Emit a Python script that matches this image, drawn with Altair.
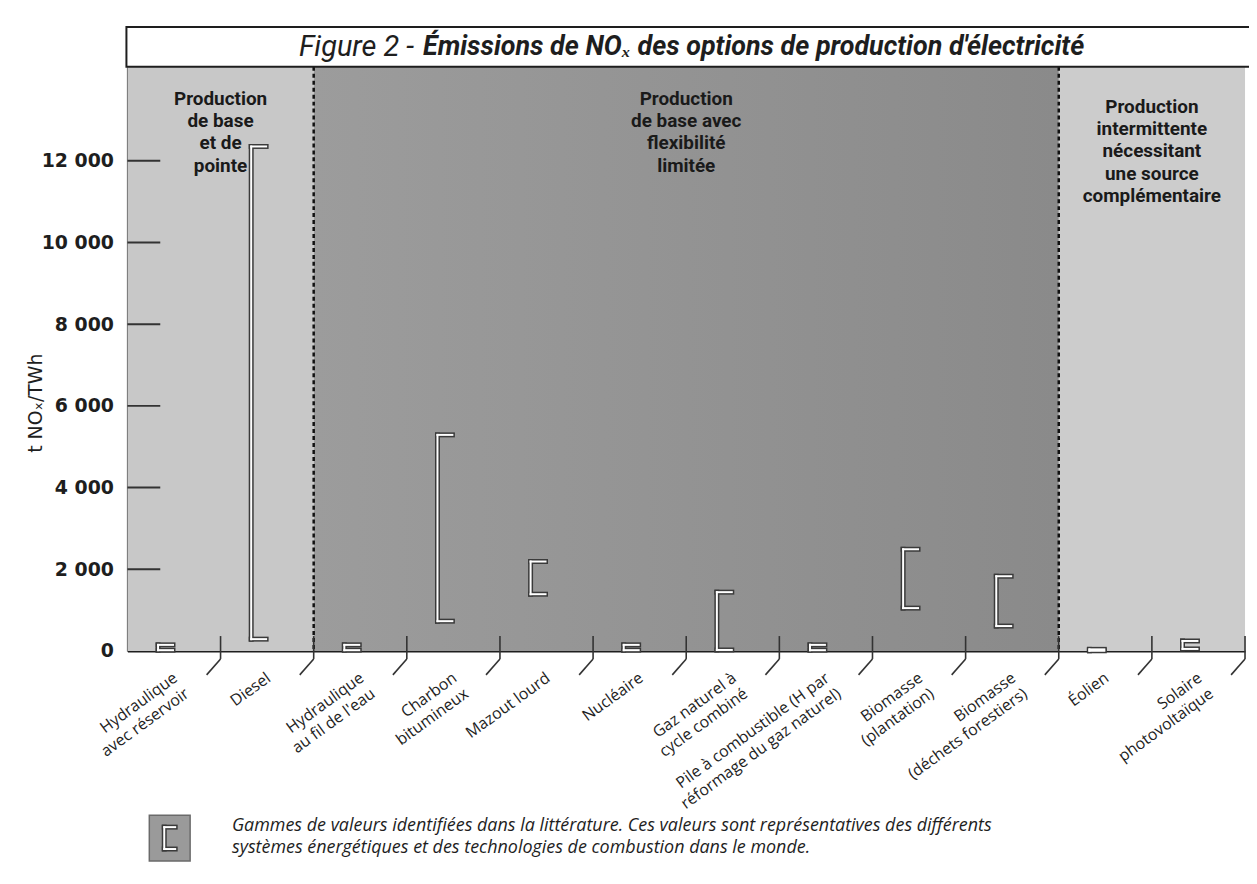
import altair as alt
import pandas as pd

# ---------------- data ----------------
categories = [
    "Hydraulique\navec réservoir", "Diesel", "Hydraulique\nau fil de l'eau",
    "Charbon\nbitumineux", "Mazout lourd", "Nucléaire",
    "Gaz naturel à\ncycle combiné", "Pile à combustible (H par\nréformage du gaz naturel)",
    "Biomasse\n(plantation)", "Biomasse\n(déchets forestiers)", "Éolien",
    "Solaire\nphotovoltaïque",
]
low_values = [20, 290, 20, 730, 1390, 20, 25, 20, 1050, 610, 5, 50]
high_values = [150, 12350, 150, 5290, 2190, 150, 1440, 150, 2490, 1830, 40, 245]

region_labels = [
    "Production\nde base\net de\npointe",
    "Production\nde base avec\nflexibilité\nlimitée",
    "Production\nintermittente\nnécessitant\nune source\ncomplémentaire",
]
region_start = [0, 2, 10]
region_end = [2, 10, 12]
dividers = [2, 10]
y_ticks = [0, 2000, 4000, 6000, 8000, 10000, 12000]

title_left = "Figure 2 -"
title_right = "Émissions de NOₓ des options de production d'électricité"
y_title = "t NOₓ/TWh"
legend_text = ("Gammes de valeurs identifiées dans la littérature.  Ces valeurs sont représentatives des différents\n"
               "systèmes énergétiques et des technologies de combustion dans le monde.")

# ---------------- tables ----------------
df = pd.DataFrame({
    "cat": categories,
    "c": [i + 0.5 for i in range(len(categories))],
    "lo": low_values,
    "hi": high_values,
})
regions = pd.DataFrame({
    "label": region_labels,
    "start": region_start,
    "end": region_end,
    "mid": [(a + b) / 2 for a, b in zip(region_start, region_end)],
    "r": [0, 1, 2],
})
bounds = pd.DataFrame({"b": list(range(1, len(categories) + 1))})
divs = pd.DataFrame({"d": dividers})
yt = pd.DataFrame({"v": [v for v in y_ticks if v > 0]})
one = alt.Data(values=[{"k": 1}])

W, H = 1123, 587
DARK = "#1e1e1e"
SANS = "Open Sans"
xs = alt.Scale(domain=[0, 12], nice=False, zero=False)
ys = alt.Scale(domain=[0, 14300], nice=False, zero=True)
XAX = alt.Axis(labels=False, ticks=False, domain=True, domainColor=DARK,
               domainWidth=2, grid=False, title=None)
YAX = alt.Axis(values=y_ticks, labelExpr="replace(format(datum.value, ','), ',', ' ')",
               labelFont="DejaVu Sans", labelFontWeight="bold", labelFontSize=19,
               labelColor=DARK, labelPadding=14, ticks=False, domain=True,
               domainColor=DARK, domainWidth=2, grid=False, title=None)


def X(f):
    return alt.X(f, scale=xs, axis=XAX)


def Y(f):
    return alt.Y(f, scale=ys, axis=YAX)


# ---------------- layers ----------------
bg_light = alt.Chart(regions).transform_filter("datum.r != 1").mark_rect().encode(
    x=X("start:Q"), x2="end:Q",
    y=alt.value(0), y2=alt.value(H),
    color=alt.Color("r:N", scale=alt.Scale(domain=[0, 2], range=["#c8c8c8", "#cccccc"]), legend=None),
)
bg_dark = alt.Chart(regions).transform_filter("datum.r == 1").mark_rect(
    fill=alt.LinearGradient(gradient="linear", x1=0, x2=1, y1=0, y2=0,
                            stops=[alt.GradientStop(color="#9c9c9c", offset=0),
                                   alt.GradientStop(color="#8a8a8a", offset=1)])
).encode(
    x=X("start:Q"), x2="end:Q",
    y=alt.value(0), y2=alt.value(H),
)

yticks = alt.Chart(yt).mark_rule(color="#333", strokeWidth=2).encode(
    y=Y("v:Q"), x=alt.value(0), x2=alt.value(33),
)

div_rules = alt.Chart(divs).mark_rule(color="#111", strokeWidth=2.5, strokeDash=[4, 3]).encode(
    x=X("d:Q"), y=alt.value(0), y2=alt.value(H),
)

tick_v = alt.Chart(bounds).mark_rule(color="#333", strokeWidth=1.6).encode(
    x=X("b:Q"), y=alt.value(H - 15), y2=alt.value(H + 8),
)
tick_d = alt.Chart(bounds).mark_rule(color="#333", strokeWidth=1.6, x2Offset=-14).encode(
    x=X("b:Q"), x2="b:Q", y=alt.value(H + 8), y2=alt.value(H + 24),
)

OFF = -16
CAP = 15


def bracket(color, width):
    v = alt.Chart(df).mark_rule(color=color, strokeWidth=width, xOffset=OFF, strokeCap="square").encode(
        x=X("c:Q"), y=Y("lo:Q"), y2="hi:Q",
    )
    top = alt.Chart(df).mark_rule(color=color, strokeWidth=width, xOffset=OFF, x2Offset=OFF + CAP,
                                  strokeCap="square").encode(
        x=X("c:Q"), x2="c:Q", y=Y("hi:Q"),
    )
    bot = alt.Chart(df).mark_rule(color=color, strokeWidth=width, xOffset=OFF, x2Offset=OFF + CAP,
                                  strokeCap="square").encode(
        x=X("c:Q"), x2="c:Q", y=Y("lo:Q"),
    )
    return v + top + bot


br_dark = bracket("#3a3a3a", 5)
br_white = bracket("#ffffff", 2)


def region_text(filt, ytop):
    return alt.Chart(regions).transform_filter(filt).mark_text(
        font="Roboto", fontWeight="bold", fontSize=19, lineHeight=22.5, lineBreak="\n",
        align="center", baseline="top", color="#1a1a1a").encode(
        x=X("mid:Q"), y=alt.value(ytop), text="label:N")


reg12 = region_text("datum.r < 2", 23)
reg3 = region_text("datum.r == 2", 31)

cat_labels = alt.Chart(df).mark_text(font=SANS, fontSize=16, lineHeight=19.5, lineBreak="\n",
                                     align="right", baseline="top", angle=324, xOffset=-3,
                                     color=DARK).encode(
    x=X("c:Q"), y=alt.value(H + 19), text="cat:N",
)

TFONT = "Roboto"
title_box = alt.Chart(one).mark_rect(fill="white", stroke=DARK, strokeWidth=2).encode(
    x=alt.value(-1), x2=alt.value(W + 30), y=alt.value(-40), y2=alt.value(0),
)
title_l = alt.Chart(one).mark_text(font=TFONT, fontStyle="italic", fontSize=29, align="right",
                                   baseline="middle", color=DARK).encode(
    x=alt.value(288), y=alt.value(-20), text=alt.value(title_left))
title_r = alt.Chart(one).mark_text(font=TFONT, fontStyle="italic", fontWeight="bold", fontSize=27,
                                   align="left", baseline="middle", color=DARK).encode(
    x=alt.value(297), y=alt.value(-20), text=alt.value(title_right))

ytitle = alt.Chart(one).mark_text(font="DejaVu Sans", fontSize=19, angle=270, align="center",
                                  baseline="middle", color=DARK).encode(
    x=alt.value(-92), y=alt.value(338), text=alt.value(y_title))

leg_box = alt.Chart(one).mark_rect(fill="#9a9a9a", stroke="#6a6a6a", strokeWidth=1.5).encode(
    x=alt.value(22), x2=alt.value(63), y=alt.value(752), y2=alt.value(798))
leg_br = []
for col, wd in (("#3a3a3a", 5), ("#ffffff", 2)):
    leg_br.append(alt.Chart(one).mark_rule(color=col, strokeWidth=wd, strokeCap="square").encode(
        x=alt.value(37), y=alt.value(764), y2=alt.value(786)))
    leg_br.append(alt.Chart(one).mark_rule(color=col, strokeWidth=wd, strokeCap="square").encode(
        x=alt.value(37), x2=alt.value(48), y=alt.value(764)))
    leg_br.append(alt.Chart(one).mark_rule(color=col, strokeWidth=wd, strokeCap="square").encode(
        x=alt.value(37), x2=alt.value(48), y=alt.value(786)))
leg_txt = alt.Chart(one).mark_text(font=SANS, fontStyle="italic", fontSize=18, lineHeight=22,
                                   lineBreak="\n", align="left", baseline="top", color=DARK).encode(
    x=alt.value(105), y=alt.value(754), text=alt.value(legend_text))

chart = alt.layer(
    bg_light, bg_dark, div_rules, yticks, tick_v, tick_d, br_dark, br_white,
    reg12, reg3, cat_labels, title_box, title_l, title_r, ytitle,
    leg_box, *leg_br, leg_txt,
).properties(
    width=W, height=H,
    autosize=alt.AutoSizeParams(type="none"),
    padding={"left": 120, "top": 57, "right": 4, "bottom": 222},
    background="white",
).configure_view(stroke=None)

chart.save("out.html", embed_options={"renderer": "svg", "actions": False})
